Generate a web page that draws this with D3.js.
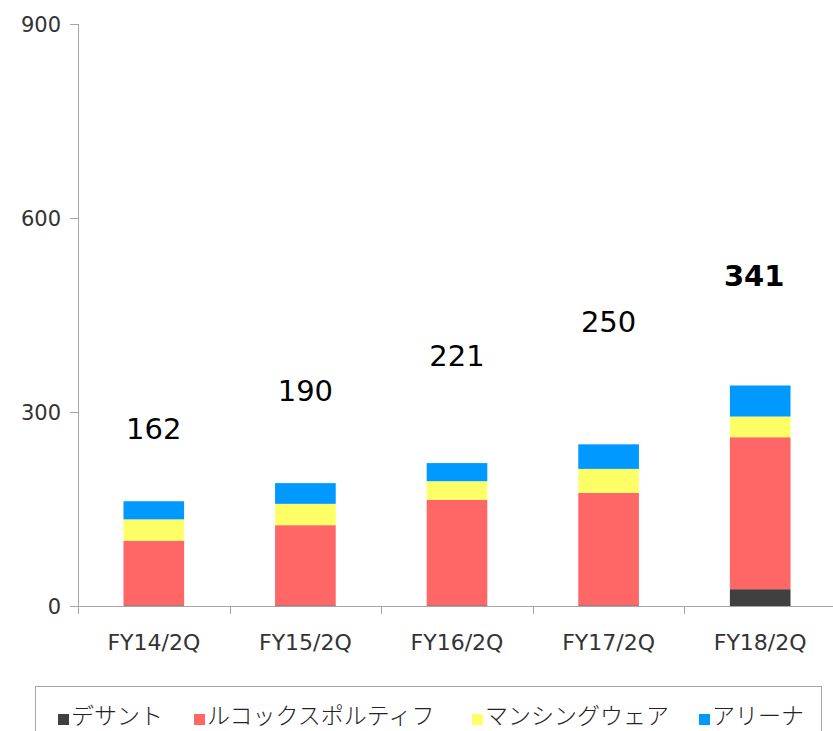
<!DOCTYPE html>
<html>
<head>
<meta charset="utf-8">
<script src="https://cdn.jsdelivr.net/npm/d3@7"></script>
<style>
  html, body { margin: 0; padding: 0; background: #fff; }
  svg { display: block; }
</style>
</head>
<body>
<svg id="chart" width="833" height="731"></svg>
<script>
// ---- data ----
const categories = ["FY14/2Q", "FY15/2Q", "FY16/2Q", "FY17/2Q", "FY18/2Q"];
const seriesNames = ["デサント", "ルコックスポルティフ", "マンシングウェア", "アリーナ"];
const descente    = [1, 1, 1, 1, 26];
const lecoq       = [100, 124, 163, 174, 235];
const munsingwear = [33, 33, 29, 37, 32];
const arena       = [28, 32, 28, 38, 48];
const totals      = [162, 190, 221, 250, 341];
const labelAnchor = [258, 317, 371, 424, 495]; // label baseline in data units
const yTicks      = [0, 300, 600, 900];
const colors      = ["#404040", "#FF6666", "#FFFF66", "#0099FF"];

const seriesValues = [descente, lecoq, munsingwear, arena];
const rows = categories.map((c, i) => {
  const r = { cat: c };
  seriesNames.forEach((s, j) => r[s] = seriesValues[j][i]);
  return r;
});

const svg = d3.select("#chart");
const font = "'DejaVu Sans', Verdana, sans-serif";

const x = d3.scaleBand().domain(categories).range([78, 836]).padding(0);
const y = d3.scaleLinear().domain([0, 900]).range([606, 24]);
const bw = x.bandwidth();

const stacked = d3.stack().keys(seriesNames)(rows);

// bars
svg.append("g").selectAll("g")
  .data(stacked)
  .join("g")
  .attr("fill", (d, i) => colors[i])
  .selectAll("rect")
  .data(d => d)
  .join("rect")
  .attr("x", d => x(d.data.cat) + bw * 0.3)
  .attr("width", bw * 0.4)
  .attr("y", d => y(d[1]))
  .attr("height", d => y(d[0]) - y(d[1]));

// y axis
const yAxis = svg.append("g")
  .attr("transform", "translate(78,0)")
  .call(d3.axisLeft(y).tickValues(yTicks).tickSize(8).tickPadding(9).tickFormat(d3.format("d")));
yAxis.select(".domain").attr("stroke", "#A6A6A6").attr("d", "M0.5," + y(900) + "V" + y(0));
yAxis.selectAll(".tick line").attr("stroke", "#A6A6A6");
yAxis.selectAll("text").attr("font-family", font).attr("font-size", 21).attr("fill", "#333").attr("dy", "0.36em");

// x axis line
svg.append("line")
  .attr("x1", 70).attr("x2", 833)
  .attr("y1", y(0) + 0.5).attr("y2", y(0) + 0.5)
  .attr("stroke", "#A6A6A6");
// x boundary ticks
svg.append("g").selectAll("line")
  .data(categories.map(c => x(c)))
  .join("line")
  .attr("x1", d => Math.round(d) + 0.5).attr("x2", d => Math.round(d) + 0.5)
  .attr("y1", y(0)).attr("y2", y(0) + 8)
  .attr("stroke", "#A6A6A6");

// x labels
svg.append("g").selectAll("text")
  .data(categories)
  .join("text")
  .attr("x", d => x(d) + bw / 2)
  .attr("y", 650)
  .attr("text-anchor", "middle")
  .attr("font-family", font)
  .attr("font-size", 22)
  .attr("fill", "#333")
  .text(d => d);

// total labels
svg.append("g").selectAll("text")
  .data(categories)
  .join("text")
  .attr("x", (d, i) => x(d) + bw / 2 - (i === 4 ? 6 : 0))
  .attr("y", (d, i) => y(labelAnchor[i]))
  .attr("text-anchor", "middle")
  .attr("font-family", font)
  .attr("font-size", 29)
  .attr("font-weight", (d, i) => i === 4 ? "bold" : "normal")
  .attr("fill", "#000")
  .text((d, i) => totals[i]);

// legend
svg.append("rect")
  .attr("x", 35.5).attr("y", 686.5)
  .attr("width", 786).attr("height", 60)
  .attr("fill", "#fff").attr("stroke", "#A6A6A6");

const legendX = [58, 194, 472, 699];
const lg = svg.append("g").selectAll("g")
  .data(seriesNames)
  .join("g")
  .attr("transform", (d, i) => `translate(${legendX[i]},0)`);
lg.append("rect")
  .attr("x", 0).attr("y", 714)
  .attr("width", 11).attr("height", 11)
  .attr("fill", (d, i) => colors[i]);
lg.append("text")
  .attr("x", 13).attr("y", 724)
  .attr("font-family", "'Noto Sans CJK JP', sans-serif")
  .attr("font-size", 23)
  .attr("font-weight", 300)
  .attr("fill", "#222")
  .text(d => d);
</script>
</body>
</html>
